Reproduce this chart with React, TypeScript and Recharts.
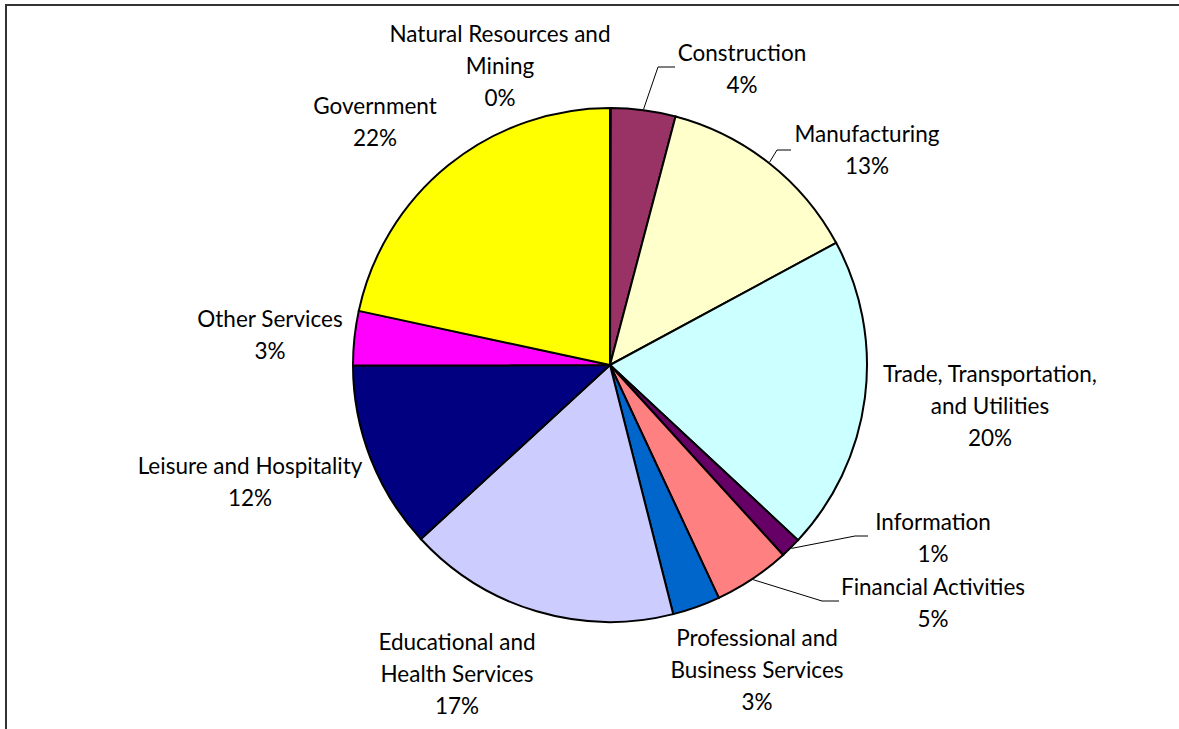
import { Cell, Pie, PieChart } from 'recharts';

// employment share by industry, clockwise from 12 o'clock
const categories = [
  'Natural Resources and\nMining',
  'Construction',
  'Manufacturing',
  'Trade, Transportation,\nand Utilities',
  'Information',
  'Financial Activities',
  'Professional and\nBusiness Services',
  'Educational and\nHealth Services',
  'Leisure and Hospitality',
  'Other Services',
  'Government',
];
const shares = [0.05, 4.05, 13.0, 19.8, 1.3, 4.8, 3.0, 17.1, 11.8, 3.4, 21.6];
const colors = [
  '#9999FF', '#993366', '#FFFFCC', '#CCFFFF', '#660066', '#FF8080',
  '#0066CC', '#CCCCFF', '#000080', '#FF00FF', '#FFFF00',
];

const data = categories.map((name, i) => ({ name, value: shares[i] }));

const CX = 610;
const CY = 365;
const R = 258;
const LINE_H = 32;
const FONT = 'Lato, "Open Sans", sans-serif';

// label block centre x and first line y, per slice
const labelPos: [number, number][] = [
  [500, 33],
  [742, 52],
  [867, 133],
  [990, 373],
  [933, 521],
  [933, 586],
  [757, 637],
  [457, 641],
  [250, 465],
  [270, 318],
  [375, 105],
];

// leader line elbow + horizontal end, null when no leader
const leaders: ([number, number, number] | null)[] = [
  null,
  [658, 67, 675],
  [777, 150, 791],
  null,
  [855, 536, 868],
  [822, 601, 839],
  null,
  null,
  null,
  null,
  null,
];

const RAD = Math.PI / 180;

function renderLabel(props: any) {
  const { index, midAngle, percent } = props;
  const [lx, ly] = labelPos[index];
  const lines = [...categories[index].split('\n'), `${Math.round(percent * 100)}%`];
  const lead = leaders[index];
  let path = null;
  if (lead) {
    const sx = CX + R * Math.cos(-midAngle * RAD);
    const sy = CY + R * Math.sin(-midAngle * RAD);
    path = (
      <polyline
        points={`${sx},${sy} ${lead[0]},${lead[1]} ${lead[2]},${lead[1]}`}
        fill="none"
        stroke="#000"
        strokeWidth={1}
      />
    );
  }
  return (
    <g key={`lbl-${index}`}>
      {path}
      <text
        x={lx}
        y={ly}
        textAnchor="middle"
        dominantBaseline="central"
        fill="#000"
        fontSize={22.5}
        fontFamily={FONT}
      >
        {lines.map((t, i) => (
          <tspan key={i} x={lx} dy={i === 0 ? 0 : LINE_H}>
            {t}
          </tspan>
        ))}
      </text>
    </g>
  );
}

export default function App() {
  return (
    <div
      style={{
        position: 'absolute',
        left: 0,
        top: 0,
        width: 1179,
        height: 729,
        overflow: 'hidden',
        background: '#fff',
      }}
    >
      <div
        style={{
          position: 'absolute',
          left: 5,
          top: 4,
          width: 1220,
          height: 800,
          border: '2px solid #333',
        }}
      />
      <div style={{ position: 'absolute', left: 0, top: 0 }}>
        <PieChart width={1179} height={729} margin={{ top: 0, right: 0, bottom: 0, left: 0 }}>
          <Pie
            data={data}
            dataKey="value"
            nameKey="name"
            cx={CX}
            cy={CY}
            outerRadius={R - 1}
            startAngle={90}
            endAngle={-270}
            stroke="#000"
            strokeWidth={2}
            label={renderLabel}
            labelLine={false}
            isAnimationActive={false}
          >
            {data.map((d, i) => (
              <Cell key={d.name} fill={colors[i]} />
            ))}
          </Pie>
        </PieChart>
      </div>
    </div>
  );
}
